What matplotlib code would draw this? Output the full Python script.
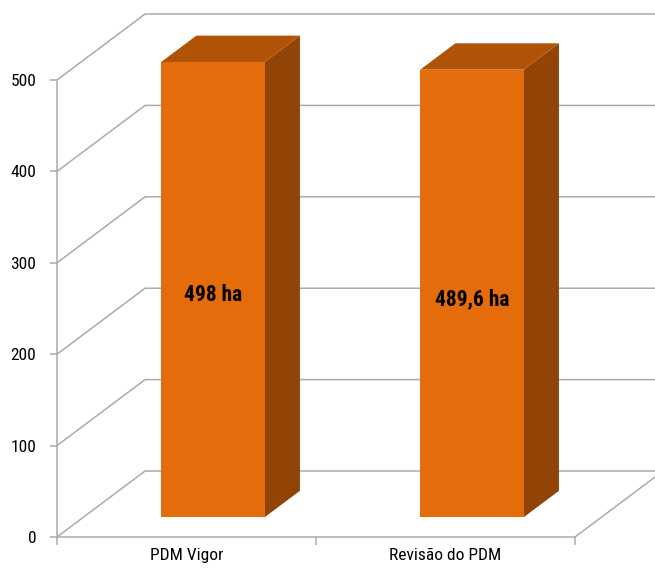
import matplotlib.pyplot as plt
from matplotlib.patches import Polygon

categories = ['PDM Vigor', 'Revisão do PDM']
areas = [498, 489.6]
bar_labels = ['498 ha', '489,6 ha']
yticks = [0, 100, 200, 300, 400, 500]

NARROW = ['Roboto Condensed', 'Liberation Sans', 'DejaVu Sans']
grid_col = '#ABABAB'
front_col = '#E46C0A'
top_col = '#B05306'
side_col = '#924407'

fig = plt.figure(figsize=(6.55, 5.7), dpi=100)
ax = fig.add_axes([57 / 655, 33 / 570, 518 / 655, 457 / 570])
ax.set_xlim(0, 2)
ax.set_ylim(0, 500)

# shift that takes the front plane to the back wall (data units)
ddx, ddy = 0.34, 72.2

# walls and floor: side diagonals plus back wall gridlines
for y in yticks:
    ax.plot([0, ddx, 2 + ddx], [y, y + ddy, y + ddy], color=grid_col,
            lw=1.1, clip_on=False, zorder=1, solid_capstyle='butt')
ax.plot([2, 2 + ddx], [0, ddy], color=grid_col, lw=1.1, clip_on=False, zorder=1)

# 3d bars, placed between 30% and 70% of the depth
f0, f1 = 0.3, 0.7
half = 0.2
for i, (v, lab) in enumerate(zip(areas, bar_labels)):
    c = i + 0.5
    x0 = c - half + f0 * ddx
    x1 = c + half + f0 * ddx
    y0 = f0 * ddy
    y1 = v + f0 * ddy
    sx, sy = (f1 - f0) * ddx, (f1 - f0) * ddy
    front = Polygon([(x0, y0), (x1, y0), (x1, y1), (x0, y1)], closed=True,
                    fc=front_col, ec='none', zorder=5, clip_on=False)
    top = Polygon([(x0, y1), (x1, y1), (x1 + sx, y1 + sy), (x0 + sx, y1 + sy)],
                  closed=True, fc=top_col, ec='none', zorder=4, clip_on=False)
    side = Polygon([(x1, y0), (x1 + sx, y0 + sy), (x1 + sx, y1 + sy), (x1, y1)],
                   closed=True, fc=side_col, ec='none', zorder=4, clip_on=False)
    for p in (side, top, front):
        ax.add_patch(p)
    ax.text((x0 + x1) / 2, (y0 + y1) / 2 - 6, lab, ha='center', va='center',
            fontsize=15.5, fontweight='bold', family=NARROW, zorder=6)

for s in ('top', 'right'):
    ax.spines[s].set_visible(False)
for s in ('left', 'bottom'):
    ax.spines[s].set_color(grid_col)
    ax.spines[s].set_linewidth(1.1)

ax.set_yticks(yticks)
ax.set_yticklabels([str(t) for t in yticks], family=NARROW, fontsize=12.5)
ax.tick_params(axis='y', length=5, width=1.1, color=grid_col, pad=10)

ax.set_xticks([0, 1, 2])
ax.set_xticklabels([])
ax.tick_params(axis='x', which='major', length=6, width=1.1, color=grid_col)
ax.set_xticks([0.5, 1.5], minor=True)
ax.set_xticklabels(categories, minor=True, family=NARROW, fontsize=12.5)
ax.tick_params(axis='x', which='minor', length=0, pad=8)

ax.set_facecolor('none')
fig.savefig('out.png', dpi=100, facecolor='white')
